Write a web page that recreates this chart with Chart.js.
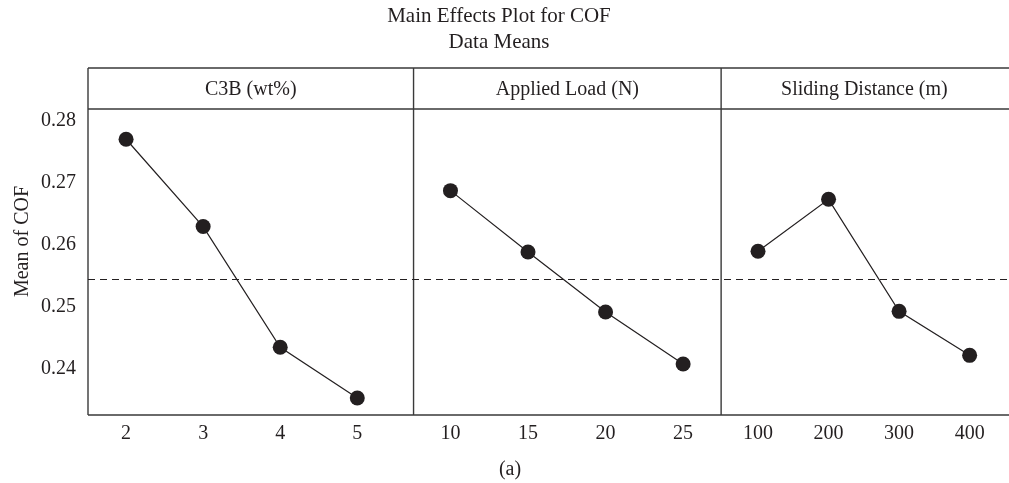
<!DOCTYPE html>
<html><head><meta charset="utf-8">
<script src="https://cdn.jsdelivr.net/npm/chart.js@4/dist/chart.umd.min.js"></script>
<style>html,body{margin:0;padding:0;background:#fff;} #wrap{width:1009px;height:483px;position:relative;}</style>
</head><body><div id="wrap"><canvas id="c" width="1009" height="483"></canvas></div>
<script>
const titleLines = ['Main Effects Plot for COF', 'Data Means'];
const factorNames = ['C3B (wt%)', 'Applied Load (N)', 'Sliding Distance (m)'];
const c3bLevels = ['2', '3', '4', '5'];
const loadLevels = ['10', '15', '20', '25'];
const distanceLevels = ['100', '200', '300', '400'];
const c3bMeans = [0.2770, 0.2629, 0.2434, 0.2352];
const loadMeans = [0.2687, 0.2588, 0.2491, 0.2407];
const distanceMeans = [0.2589, 0.2673, 0.2492, 0.2421];
const grandMean = 0.2545;
const yTicks = [0.24, 0.25, 0.26, 0.27, 0.28];
const yLabel = 'Mean of COF';
const caption = '(a)';

const INK = '#231f20';
const FONT = "'Liberation Serif', 'DejaVu Serif', serif";

function pts(vals) { return vals.map((v, i) => ({x: i + 1, y: v})); }

function xScale(levels, weight, min, max) {
  return {
    type: 'linear', position: 'bottom', stack: 'panels', stackWeight: weight,
    min: min, max: max,
    grid: {display: false, drawTicks: false}, border: {display: false},
    afterBuildTicks: s => { s.ticks = levels.map((_, i) => ({value: i + 1})); },
    afterFit: s => { s.height = 68; },
    ticks: {
      autoSkip: false, maxRotation: 0, padding: 7, color: INK,
      font: {family: FONT, size: 20},
      callback: (v, i) => levels[i]
    }
  };
}

function ds(vals, xid) {
  return {
    data: pts(vals), xAxisID: xid, yAxisID: 'y',
    borderColor: INK, borderWidth: 1.2,
    pointRadius: 7.5, pointHoverRadius: 7.5,
    pointBackgroundColor: INK, pointBorderColor: INK, pointBorderWidth: 0,
    clip: false
  };
}

const framePlugin = {
  id: 'frame',
  beforeDatasetsDraw(chart) {
    const ctx = chart.ctx, a = chart.chartArea, y = chart.scales.y;
    const xs = [chart.scales.x1, chart.scales.x2, chart.scales.x3];
    const headTop = 68;
    ctx.save();
    ctx.strokeStyle = '#3a3a3a';
    ctx.lineWidth = 1.4;
    ctx.beginPath();
    ctx.moveTo(a.left, headTop); ctx.lineTo(a.right + 2, headTop);
    ctx.moveTo(a.left, a.top); ctx.lineTo(a.right + 2, a.top);
    ctx.moveTo(a.left, a.bottom); ctx.lineTo(a.right + 2, a.bottom);
    ctx.moveTo(xs[0].left, headTop); ctx.lineTo(xs[0].left, a.bottom);
    ctx.moveTo(xs[1].left, headTop); ctx.lineTo(xs[1].left, a.bottom);
    ctx.moveTo(xs[2].left, headTop); ctx.lineTo(xs[2].left, a.bottom);
    ctx.stroke();
    // dashed grand mean line
    const ym = Math.round(y.getPixelForValue(grandMean)) + 0.5;
    ctx.strokeStyle = INK;
    ctx.lineWidth = 1;
    ctx.setLineDash([7, 5]);
    ctx.beginPath();
    ctx.moveTo(a.left, ym); ctx.lineTo(a.right, ym);
    ctx.stroke();
    ctx.setLineDash([]);
    // header texts
    ctx.fillStyle = INK;
    ctx.font = '20px ' + FONT;
    ctx.textAlign = 'center';
    ctx.textBaseline = 'middle';
    xs.forEach((s, i) => ctx.fillText(factorNames[i], (s.left + s.right) / 2, (headTop + a.top) / 2 + 1));
    // caption
    ctx.fillText(caption, 510, 470);
    // y label
    ctx.save();
    ctx.translate(23, (headTop + a.bottom) / 2);
    ctx.rotate(-Math.PI / 2);
    ctx.fillText(yLabel, 0, 0);
    ctx.restore();
    // title
    ctx.font = '21px ' + FONT;
    ctx.fillText(titleLines[0], 499, 16);
    ctx.fillText(titleLines[1], 499, 42);
    ctx.restore();
  }
};

new Chart(document.getElementById('c'), {
  type: 'line',
  data: {
    datasets: [ds(c3bMeans, 'x1'), ds(loadMeans, 'x2'), ds(distanceMeans, 'x3')]
  },
  options: {
    responsive: false, animation: false,
    layout: {autoPadding: false, padding: {top: 109, left: 0, right: 0, bottom: 0}},
    plugins: {legend: {display: false}, tooltip: {enabled: false}, title: {display: false}},
    scales: {
      x1: xScale(c3bLevels, 326, 0.506, 4.73),
      x2: xScale(loadLevels, 308, 0.524, 4.49),
      x3: xScale(distanceLevels, 287, 0.477, 4.54),
      y: {
        type: 'linear', position: 'left', min: 0.23246, max: 0.28189,
        grid: {display: false, drawTicks: false}, border: {display: false},
        afterBuildTicks: s => { s.ticks = yTicks.map(v => ({value: v})); },
        afterFit: s => { s.width = 88; },
        ticks: {padding: 12, color: INK, font: {family: FONT, size: 20}, callback: v => v.toFixed(2)}
      }
    }
  },
  plugins: [framePlugin]
});
</script></body></html>
